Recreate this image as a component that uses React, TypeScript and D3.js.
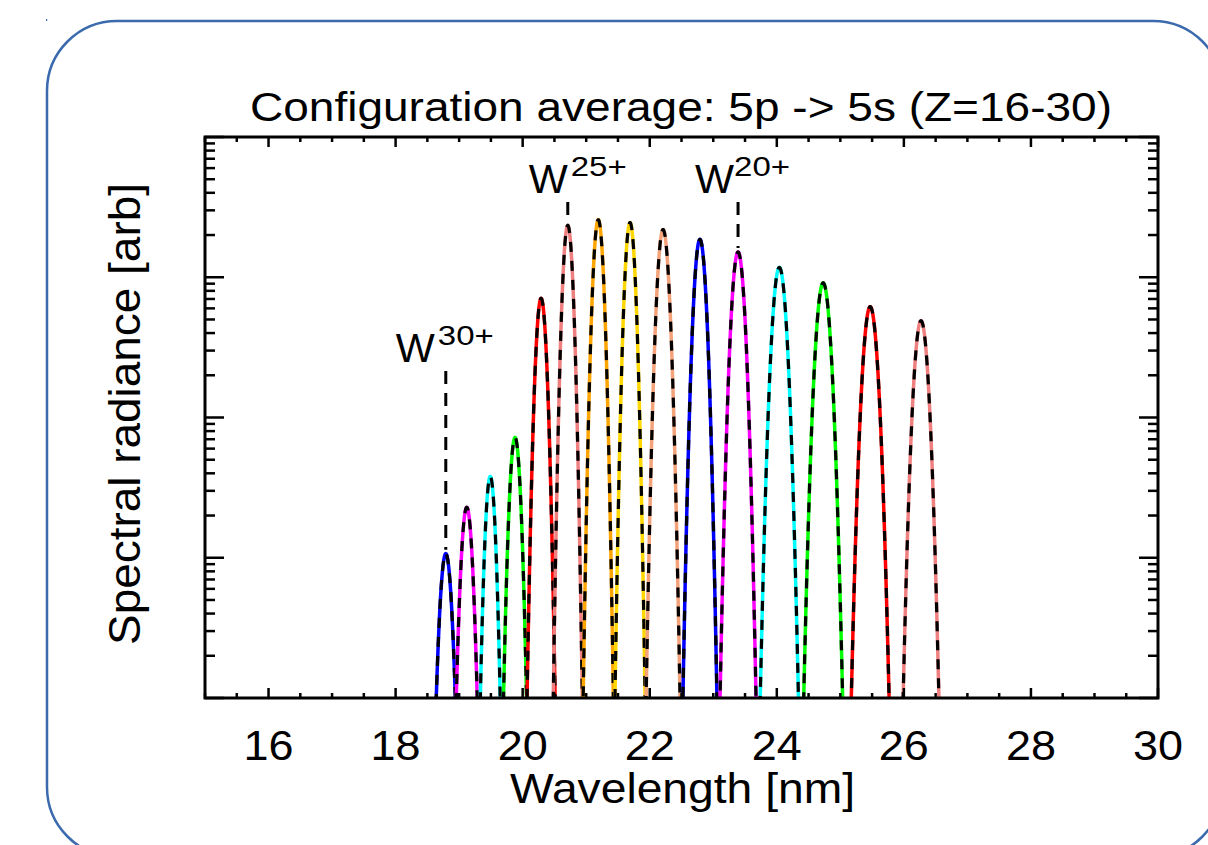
import React from "react";
import * as d3 from "d3";

// ---- data ----
const chargeStates = [30, 29, 28, 27, 26, 25, 24, 23, 22, 21, 20, 19, 18, 17, 16];
const peakCenters = [18.79, 19.12, 19.49, 19.88, 20.29, 20.71, 21.19, 21.69, 22.21, 22.79, 23.39, 24.04, 24.73, 25.47, 26.27];
const peakHeights = [10.7, 22.9, 38, 72, 708, 2344, 2570, 2455, 2188, 1862, 1514, 1175, 912, 617, 490];
const peakSigmas = [0.069, 0.066, 0.058, 0.062, 0.061, 0.058, 0.06, 0.06, 0.068, 0.069, 0.074, 0.08, 0.083, 0.083, 0.08];
const peakColors = [
  "#0000ff", "#ff00ff", "#00ffff", "#00ff00", "#ff0000", "#f08080", "#ffa500", "#ffd700",
  "#f4a27a", "#0000ff", "#ff00ff", "#00ffff", "#00ff00", "#ff0000", "#f08080",
];
const annotatedCharges = [30, 25, 20];
const xTickLabels = [16, 18, 20, 22, 24, 26, 28, 30];
const xDomain = [15, 30];
const yDomain = [1, 1e4];

// layout only (label placement relative to the marked peak)
const annotationLayout: Record<number, { baseY: number; wDx: number; supDx: number }> = {
  30: { baseY: 362, wDx: -50, supDx: -8 },
  25: { baseY: 193, wDx: -39, supDx: 3 },
  20: { baseY: 193, wDx: -43, supDx: -4 },
};

const W = 1208;
const H = 845;
const plot = { left: 205, right: 1158, top: 137, bottom: 698 };
const FONT = "'Liberation Sans', Arial, Helvetica, sans-serif";

export default function App() {
  const x = d3.scaleLinear().domain(xDomain).range([plot.left, plot.right]);
  const y = d3.scaleLog().domain(yDomain).range([plot.bottom, plot.top]);

  const line = d3
    .line<[number, number]>()
    .x((d) => x(d[0]))
    .y((d) => y(Math.max(d[1], 1e-3)));

  const peaks = peakCenters.map((c, i) => {
    const s = peakSigmas[i];
    const A = peakHeights[i];
    const pts: [number, number][] = d3
      .range(c - 5 * s, c + 5 * s + 1e-9, s / 40)
      .map((l) => [l, A * Math.exp(-((l - c) ** 2) / (2 * s * s))]);
    return { path: line(pts) as string, color: peakColors[i] };
  });

  const xMinor = d3.range(15, 30.001, 0.5);
  const yTicks: { v: number; major: boolean }[] = [];
  for (let k = 0; k < 4; k++) {
    for (let m = 1; m < 10; m++) yTicks.push({ v: m * 10 ** k, major: m === 1 });
  }
  yTicks.push({ v: 1e4, major: true });

  return (
    <svg
      width={W}
      height={H}
      style={{ position: "absolute", left: 0, top: 0, background: "#fff" }}
      fontFamily={FONT}
    >
      <rect x={0} y={0} width={W} height={H} fill="#fff" />
      <rect x={47} y={21} width={1176} height={836} rx={70} ry={70} fill="none" stroke="#3b6aad" strokeWidth={2.5} />
      <rect x={46} y={19} width={1.2} height={2} fill="#3b6aad" />

      <defs>
        <clipPath id="plotClip">
          <rect x={plot.left} y={plot.top} width={plot.right - plot.left} height={plot.bottom - plot.top} />
        </clipPath>
      </defs>

      <text x={250} y={121} fontSize={40} textLength={862} lengthAdjust="spacingAndGlyphs" fill="#000">
        Configuration average: 5p -&gt; 5s (Z=16-30)
      </text>

      <g clipPath="url(#plotClip)" fill="none">
        {peaks.map((p, i) => (
          <g key={i}>
            <path d={p.path} stroke={p.color} strokeWidth={3.5} />
            <path d={p.path} stroke="#000" strokeWidth={3.2} strokeDasharray="10 9" />
          </g>
        ))}
      </g>

      {annotatedCharges.map((q) => {
        const i = chargeStates.indexOf(q);
        const cx = x(peakCenters[i]);
        const top = y(peakHeights[i]);
        const L = annotationLayout[q];
        return (
          <g key={q}>
            <line x1={cx} x2={cx} y1={L.baseY + 9} y2={top - 4} stroke="#000" strokeWidth={3} strokeDasharray="13 9" />
            <text x={cx + L.wDx} y={L.baseY} fontSize={41} textLength={39} lengthAdjust="spacingAndGlyphs">W</text>
            <text x={cx + L.supDx} y={L.baseY - 17} fontSize={27} textLength={56} lengthAdjust="spacingAndGlyphs">{q}+</text>
          </g>
        );
      })}

      {xMinor.map((v) => {
        const major = Math.abs(v % 2) < 1e-9;
        const len = major ? 10 : 5;
        return (
          <g key={"x" + v} stroke="#000" strokeWidth={2.5}>
            <line x1={x(v)} x2={x(v)} y1={plot.bottom} y2={plot.bottom - len} />
            <line x1={x(v)} x2={x(v)} y1={plot.top} y2={plot.top + len} />
          </g>
        );
      })}
      {xTickLabels.map((v) => (
        <text key={"xl" + v} x={x(v)} y={760} fontSize={42} textAnchor="middle" textLength={50} lengthAdjust="spacingAndGlyphs">
          {v}
        </text>
      ))}

      {yTicks.map((t, i) => {
        const len = t.major ? 19 : 10;
        return (
          <g key={"y" + i} stroke="#000" strokeWidth={2.5}>
            <line x1={plot.left} x2={plot.left + len} y1={y(t.v)} y2={y(t.v)} />
            <line x1={plot.right} x2={plot.right - len} y1={y(t.v)} y2={y(t.v)} />
          </g>
        );
      })}

      <rect
        x={plot.left}
        y={plot.top}
        width={plot.right - plot.left}
        height={plot.bottom - plot.top}
        fill="none"
        stroke="#000"
        strokeWidth={3}
      />

      <text x={510} y={803} fontSize={42} textLength={345} lengthAdjust="spacingAndGlyphs">
        Wavelength [nm]
      </text>
      <text
        transform={`translate(140, ${(183 + 645) / 2}) rotate(-90)`}
        fontSize={44}
        textAnchor="middle"
        textLength={462}
        lengthAdjust="spacingAndGlyphs"
      >
        Spectral radiance [arb]
      </text>
    </svg>
  );
}
